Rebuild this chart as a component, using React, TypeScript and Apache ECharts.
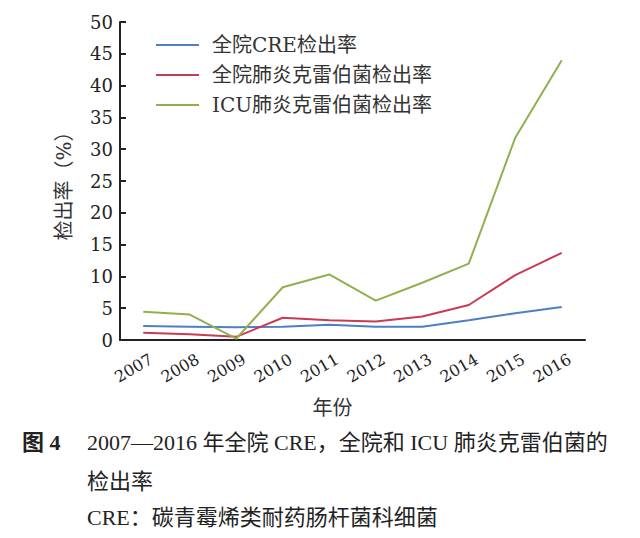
import React, { useEffect, useRef } from "react";
import * as echarts from "echarts";

const years = ["2007", "2008", "2009", "2010", "2011", "2012", "2013", "2014", "2015", "2016"];
const creHospital = [2.2, 2.1, 2.0, 2.1, 2.4, 2.1, 2.1, 3.1, 4.2, 5.2];
const kpHospital = [1.15, 0.9, 0.5, 3.5, 3.1, 2.9, 3.7, 5.5, 10.2, 13.7];
const kpICU = [4.45, 4.0, 0.2, 8.3, 10.3, 6.2, 9.0, 12.0, 31.8, 44.0];
const seriesNames = ["全院CRE检出率", "全院肺炎克雷伯菌检出率", "ICU肺炎克雷伯菌检出率"];
const seriesColors = ["#4e7fc2", "#c93a55", "#90b04f"];
const yTicks = [0, 5, 10, 15, 20, 25, 30, 35, 40, 45, 50];

const SERIF = "'DejaVu Serif', 'Noto Sans CJK SC', serif";
const CAP = "'Liberation Serif', 'Noto Sans CJK SC', serif";

export default function App() {
  const ref = useRef<HTMLDivElement>(null);
  useEffect(() => {
    if (!ref.current) return;
    const chart = echarts.init(ref.current, undefined, { renderer: "svg" });
    const mk = (i: number, data: number[]) => ({
      name: seriesNames[i],
      type: "line",
      data,
      symbol: "none",
      lineStyle: { color: seriesColors[i], width: 2 },
      itemStyle: { color: seriesColors[i] },
    });
    chart.setOption({
      animation: false,
      backgroundColor: "#ffffff",
      grid: { left: 120, right: 55, top: 22, bottom: 198 },
      legend: {
        orient: "vertical",
        left: 151,
        top: 30,
        icon: "rect",
        itemWidth: 43,
        itemHeight: 2,
        itemGap: 10,
        data: seriesNames,
        textStyle: { fontSize: 20, color: "#333", fontFamily: SERIF, padding: [0, 0, 0, 8] },
      },
      xAxis: {
        type: "category",
        data: years,
        boundaryGap: true,
        name: "年份",
        nameLocation: "middle",
        nameGap: 48,
        nameTextStyle: { fontSize: 20, color: "#333", fontFamily: SERIF, padding: [0, 40, 0, 0] },
        axisLine: { lineStyle: { color: "#222", width: 2 } },
        axisTick: { inside: true, length: 6, interval: 0, lineStyle: { color: "#222", width: 2 } },
        axisLabel: {
          interval: 0,
          showMinLabel: true,
          showMaxLabel: true,
          hideOverlap: false,
          rotate: 30,
          fontSize: 16,
          color: "#222",
          fontFamily: SERIF,
          margin: 4,
          verticalAlign: "top",
          lineHeight: 32,
        },
      },
      yAxis: {
        type: "value",
        min: 0,
        max: 50,
        interval: 5,
        name: "检出率（%）",
        nameLocation: "middle",
        nameGap: 46,
        nameRotate: 90,
        nameTextStyle: { fontSize: 20, color: "#333", fontFamily: SERIF },
        axisLine: { show: true, lineStyle: { color: "#222", width: 2 } },
        axisTick: { show: true, inside: true, length: 6, lineStyle: { color: "#222", width: 2 } },
        axisLabel: {
          fontSize: 18,
          color: "#222",
          fontFamily: SERIF,
          margin: 7,
          formatter: (v: number) => (yTicks.includes(v) ? String(v) : ""),
        },
        splitLine: { show: false },
      },
      series: [mk(0, creHospital), mk(1, kpHospital), mk(2, kpICU)],
      graphic: [
        { type: "text", left: 22, top: 431, style: { text: "图 4", font: `bold 22px ${CAP}`, fill: "#222" } },
        { type: "text", left: 87, top: 431, style: { text: "2007—2016 年全院 CRE，全院和 ICU 肺炎克雷伯菌的", font: `22px ${CAP}`, fill: "#222" } },
        { type: "text", left: 87, top: 470, style: { text: "检出率", font: `22px ${CAP}`, fill: "#222" } },
        { type: "text", left: 87, top: 506, style: { text: "CRE：碳青霉烯类耐药肠杆菌科细菌", font: `22px ${CAP}`, fill: "#222" } },
      ],
    });
    return () => chart.dispose();
  }, []);
  return <div ref={ref} style={{ position: "absolute", left: 0, top: 0, width: 640, height: 538 }} />;
}
